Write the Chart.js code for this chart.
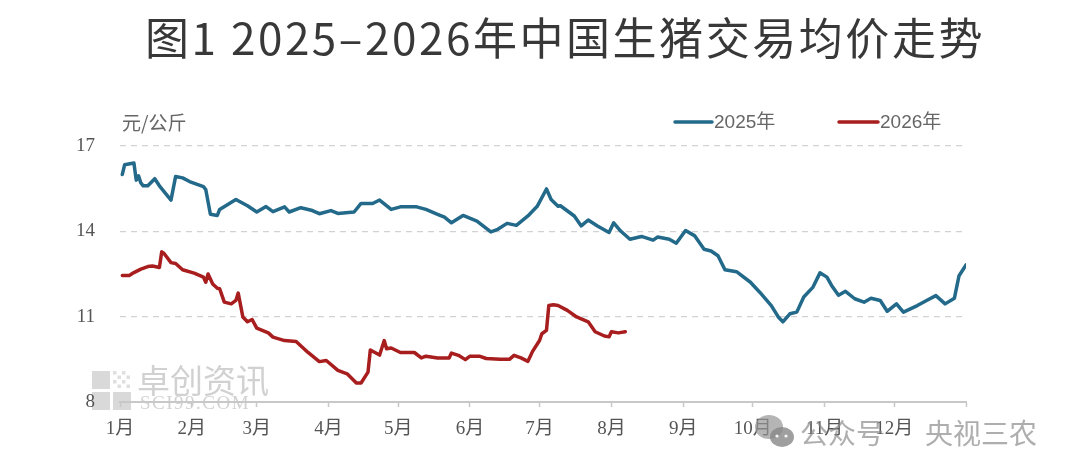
<!DOCTYPE html>
<html>
<head>
<meta charset="utf-8">
<script src="https://cdn.jsdelivr.net/npm/chart.js@4.4.1/dist/chart.umd.min.js"></script>
<style>
  html, body { margin: 0; padding: 0; background: #ffffff; }
  #wrap { width: 1080px; height: 474px; position: relative; }
</style>
</head>
<body>
<div id="wrap"><canvas id="c" width="1080" height="474"></canvas></div>
<script>
// ---- data (x = day of year, y = 元/公斤) ----
const days2025 = [1,2,6,7,8,9,10,12,15,17,22,24,27,30,36,37,39,42,43,50,55,59,63,66,71,73,78,83,86,91,94,101,104,109,112,117,121,128,132,137,140,143,148,154,160,163,167,171,176,180,184,186,189,190,196,199,202,206,211,213,216,220,225,230,232,237,240,244,248,252,255,258,261,266,272,276,281,284,286,289,292,295,299,302,305,307,310,313,317,321,324,328,331,335,338,344,348,352,356,360,362,365];
const price2025 = [16.0,16.34,16.4,15.8,15.95,15.7,15.6,15.6,15.85,15.6,15.1,15.93,15.88,15.75,15.57,15.47,14.6,14.56,14.77,15.12,14.9,14.68,14.87,14.69,14.86,14.68,14.83,14.73,14.62,14.73,14.63,14.68,14.98,14.98,15.1,14.77,14.86,14.86,14.77,14.6,14.5,14.3,14.56,14.36,13.98,14.07,14.28,14.21,14.54,14.88,15.49,15.12,14.88,14.9,14.54,14.19,14.4,14.19,13.96,14.3,14.01,13.72,13.82,13.69,13.8,13.72,13.58,14.03,13.84,13.37,13.31,13.14,12.65,12.58,12.21,11.86,11.39,10.99,10.82,11.1,11.16,11.69,12.04,12.54,12.39,12.1,11.75,11.89,11.63,11.51,11.65,11.57,11.19,11.45,11.16,11.39,11.57,11.74,11.45,11.65,12.44,12.82];
const days2026 = [1,4,6,9,12,14,17,18,19,22,24,27,32,36,37,38,40,42,43,45,48,50,51,53,55,57,59,64,66,71,76,81,86,89,94,98,102,104,107,108,112,114,115,117,121,127,130,132,137,142,143,146,149,151,155,158,164,168,170,173,176,178,181,182,184,185,187,189,193,197,202,205,209,211,212,215,218];
const price2026 = [12.45,12.45,12.55,12.67,12.76,12.78,12.73,13.28,13.22,12.9,12.87,12.65,12.53,12.39,12.21,12.5,12.15,12.0,11.98,11.51,11.45,11.57,11.83,10.99,10.82,10.9,10.6,10.43,10.28,10.16,10.13,9.75,9.42,9.46,9.11,8.99,8.67,8.67,9.05,9.83,9.65,10.16,9.87,9.9,9.74,9.74,9.55,9.61,9.55,9.55,9.72,9.64,9.49,9.61,9.61,9.53,9.5,9.5,9.64,9.55,9.43,9.78,10.16,10.4,10.52,11.39,11.42,11.39,11.22,10.99,10.82,10.47,10.32,10.29,10.47,10.43,10.47];
const monthStarts = [0,31,59,90,120,151,181,212,243,273,304,334,365];
const monthLabels = ['1月','2月','3月','4月','5月','6月','7月','8月','9月','10月','11月','12月',''];
const yTicks = [8,11,14,17];
const seriesNames = ['2025年','2026年'];
const titleText = '图1 2025–2026年中国生猪交易均价走势';
const unitText = '元/公斤';

const BLUE = '#23698a';
const RED = '#a81d1d';

const toPoints = (xs, ys) => xs.map((x, i) => ({ x: x, y: ys[i] }));

const decor = {
  id: 'decor',
  beforeDraw(chart) {
    const ctx = chart.ctx;
    ctx.save();
    // watermark logo + text (卓创资讯)
    ctx.fillStyle = 'rgba(185,185,185,0.55)';
    ctx.fillRect(92, 371, 18, 18);
    ctx.fillRect(92, 392, 18, 18);
    ctx.fillRect(113, 392, 18, 18);
    ctx.fillStyle = 'rgba(185,185,185,0.45)';
    for (let i = 0; i < 4; i++) for (let j = 0; j < 4; j++) {
      if ((i + j) % 2 === 0) ctx.fillRect(113 + i * 4.5, 371 + j * 4.5, 3.5, 3.5);
    }
    ctx.fillStyle = 'rgba(185,185,185,0.65)';
    ctx.font = '33px "Noto Sans CJK SC"';
    ctx.textBaseline = 'middle';
    ctx.textAlign = 'left';
    ctx.fillText('卓创资讯', 137, 380);
    ctx.font = '19px "Liberation Serif"';
    ctx.letterSpacing = '1.5px';
    ctx.fillText('SCI99.COM', 140, 404);
    ctx.restore();
  },
  afterDraw(chart) {
    const ctx = chart.ctx;
    ctx.save();
    // title
    ctx.fillStyle = '#383838';
    ctx.font = '44px "Noto Sans CJK SC"';
    ctx.textBaseline = 'middle';
    ctx.textAlign = 'left';
    ctx.letterSpacing = '0px';
    const w = ctx.measureText(titleText).width;
    const ls = (840 - w) / titleText.length;
    ctx.letterSpacing = ls + 'px';
    ctx.fillText(titleText, 145, 38);
    ctx.letterSpacing = '0px';

    // unit label
    ctx.fillStyle = '#666666';
    ctx.font = '19px "Noto Sans CJK SC"';
    ctx.fillText(unitText, 122, 123);

    // legend
    const items = [
      { name: seriesNames[0], color: BLUE, x0: 675, x1: 712 },
      { name: seriesNames[1], color: RED, x0: 839, x1: 878 }
    ];
    ctx.font = '19px "Liberation Sans", "Noto Sans CJK SC"';
    items.forEach(it => {
      ctx.strokeStyle = it.color;
      ctx.lineWidth = 3.5;
      ctx.lineCap = 'round';
      ctx.beginPath();
      ctx.moveTo(it.x0, 122);
      ctx.lineTo(it.x1, 122);
      ctx.stroke();
      ctx.fillStyle = '#666666';
      ctx.fillText(it.name, it.x1 + 2, 123);
    });

    // wechat watermark
    ctx.fillStyle = 'rgba(150,150,150,0.7)';
    ctx.beginPath();
    ctx.ellipse(769, 427, 14, 12, 0, 0, Math.PI * 2);
    ctx.fill();
    ctx.fillStyle = 'rgba(135,135,135,0.8)';
    ctx.beginPath();
    ctx.ellipse(782, 437, 12, 10, 0, 0, Math.PI * 2);
    ctx.fill();
    ctx.fillStyle = 'rgba(255,255,255,0.9)';
    [[777, 436], [786, 436]].forEach(p => {
      ctx.beginPath(); ctx.arc(p[0], p[1], 1.6, 0, Math.PI * 2); ctx.fill();
    });
    ctx.fillStyle = 'rgba(140,140,140,0.7)';
    ctx.font = '28px "Noto Sans CJK SC"';
    ctx.fillText('公众号', 800, 433);
    ctx.fillText('央视三农', 925, 433);
    ctx.restore();
  }
};

new Chart(document.getElementById('c'), {
  type: 'line',
  data: {
    datasets: [
      {
        label: seriesNames[0],
        data: toPoints(days2025, price2025),
        borderColor: BLUE,
        borderWidth: 3.5,
        pointRadius: 0,
        tension: 0,
        borderJoinStyle: 'round',
        borderCapStyle: 'round'
      },
      {
        label: seriesNames[1],
        data: toPoints(days2026, price2026),
        borderColor: RED,
        borderWidth: 3.5,
        pointRadius: 0,
        tension: 0,
        borderJoinStyle: 'round',
        borderCapStyle: 'round'
      }
    ]
  },
  options: {
    responsive: false,
    animation: false,
    devicePixelRatio: 1,
    layout: { padding: { top: 146, right: 114, left: 0, bottom: 0 } },
    plugins: {
      legend: { display: false },
      title: { display: false },
      tooltip: { enabled: false }
    },
    scales: {
      x: {
        type: 'linear',
        min: 0,
        max: 365,
        afterBuildTicks: s => { s.ticks = monthStarts.map(v => ({ value: v })); },
        afterFit: s => { s.height = 72; },
        ticks: {
          autoSkip: false,
          maxRotation: 0,
          padding: 11,
          color: '#555555',
          font: { family: '"Liberation Serif", "Noto Sans CJK SC"', size: 19 },
          callback: (v, i) => monthLabels[i]
        },
        grid: {
          drawOnChartArea: false,
          drawTicks: true,
          tickLength: 5,
          tickColor: '#c8c8c8',
          tickWidth: 1.5
        },
        border: { display: true, color: '#c8c8c8', width: 2 }
      },
      y: {
        min: 8,
        max: 17,
        afterBuildTicks: s => { s.ticks = yTicks.map(v => ({ value: v })); },
        afterFit: s => { s.width = 120; },
        ticks: {
          padding: 25,
          color: '#555555',
          font: { family: '"Liberation Serif"', size: 19 }
        },
        grid: {
          drawTicks: false,
          lineWidth: 1.2,
          color: c => (c.tick && c.tick.value === 8) ? 'rgba(0,0,0,0)' : '#d2d2d2'
        },
        border: { display: false, dash: [6, 5] }
      }
    }
  },
  plugins: [decor]
});
</script>
</body>
</html>
